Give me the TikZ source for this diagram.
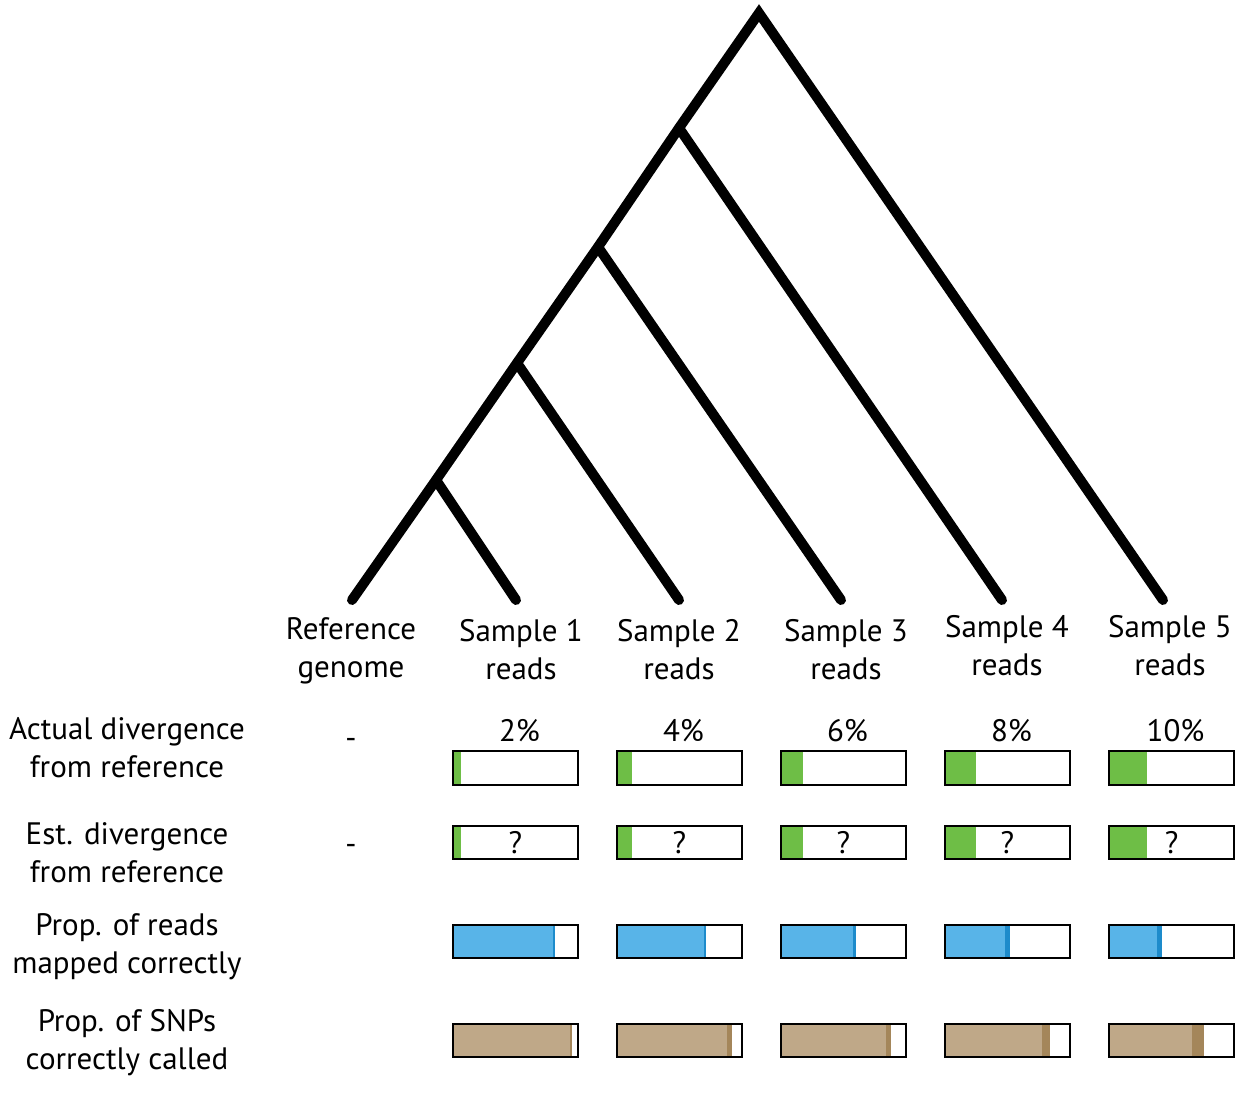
\documentclass[tikz,border=0pt]{standalone}
\usepackage{fontspec}
\setmainfont{PT Sans}
\definecolor{divgreen}{HTML}{6EBE46}
\definecolor{mapblue}{HTML}{58B4E8}
\definecolor{mapdark}{HTML}{1D8BCB}
\definecolor{snptan}{HTML}{BFA888}
\definecolor{snpdark}{HTML}{A4865A}
\tikzset{
  branch/.style={line width=5pt, line cap=round},
  txt/.style={align=center, inner sep=0pt, font=\fontsize{15.5}{19}\selectfont},
  barframe/.style={draw, line width=1pt, minimum width=62.5pt, minimum height=16.5pt,
    inner sep=0pt, font=\fontsize{15.5}{19}\selectfont},
}
\begin{document}
\begin{tikzpicture}[x=0.5pt, y=-0.5pt]
  \useasboundingbox (0,0) rectangle (1244,1102);

  % tree
  \coordinate (root) at (759,13);
  \coordinate (n1) at (679,128);
  \coordinate (n2) at (598,247);
  \coordinate (n3) at (517,363);
  \coordinate (n4) at (436,480);
  \coordinate (ref) at (352,600);
  \coordinate (s1) at (516,600);
  \coordinate (s2) at (679,600);
  \coordinate (s3) at (841,600);
  \coordinate (s4) at (1002,600);
  \coordinate (s5) at (1163,600);

  \draw[branch] (ref) -- (n4) -- (n3) -- (n2) -- (n1) -- (root) -- (s5);
  \draw[branch] (n4) -- (s1)
                (n3) -- (s2)
                (n2) -- (s3)
                (n1) -- (s4);

  % leaf labels
  \node[txt] (label_ref) at (351,651) {Reference\\genome};
  \node[txt] (label_1) at (521,650) {Sample 1\\reads};
  \node[txt] (label_2) at (679,650) {Sample 2\\reads};
  \node[txt] (label_3) at (846,650) {Sample 3\\reads};
  \node[txt] (label_4) at (1007,646) {Sample 4\\reads};
  \node[txt] (label_5) at (1170,646) {Sample 5\\reads};

  % row labels
  \node[txt] (row_act) at (127,748) {Actual divergence\\from reference};
  \node[txt] (row_est) at (127,853) {Est. divergence\\from reference};
  \node[txt] (row_map) at (127,947) {Prop. of reads\\mapped correctly};
  \node[txt] (row_snp) at (127,1043) {Prop. of SNPs\\correctly called};
  \node[txt] (dash_act) at (351,743) {-};
  \node[txt] (dash_est) at (351,849) {-};

  % bars
  \foreach \i/\p/\g/\b/\bd/\t/\td in {1/2/8/100/2/117/1.5, 2/4/15/87/1.5/110/5,
      3/6/22/72/3/105/5, 4/8/31/60/5/97/8, 5/10/38/48/5/83/12} {
    \pgfmathsetmacro\xl{453+164*(\i-1)}
    \fill[divgreen] (\xl,751) rectangle ++(\g,34);
    \fill[divgreen] (\xl,826) rectangle ++(\g,33);
    \fill[mapblue] (\xl,925) rectangle ++(\b,33);
    \fill[mapdark] (\xl+\b,925) rectangle ++(\bd,33);
    \fill[snptan] (\xl,1024) rectangle ++(\t,33);
    \fill[snpdark] (\xl+\t,1024) rectangle ++(\td,33);
    \node[barframe, minimum height=17pt] (act\i) at (\xl+62.5,768) {};
    \node[barframe] (est\i) at (\xl+62.5,842.5) {?};
    \node[barframe] (map\i) at (\xl+62.5,941.5) {};
    \node[barframe] (snp\i) at (\xl+62.5,1040.5) {};
    \node[txt, anchor=south, xshift=2pt, yshift=4pt] (pct\i) at (act\i.north) {\p\%};
  }
\end{tikzpicture}
\end{document}
